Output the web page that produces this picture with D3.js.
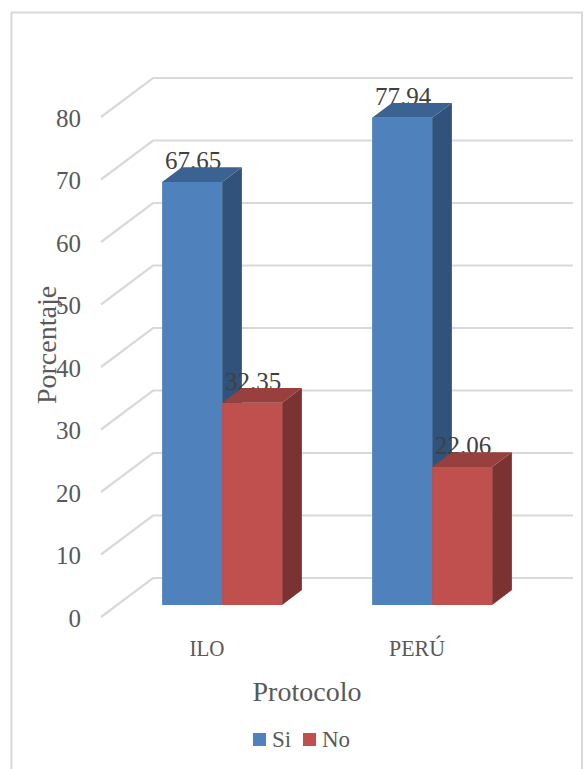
<!DOCTYPE html>
<html>
<head>
<meta charset="utf-8">
<script src="https://cdn.jsdelivr.net/npm/d3@7"></script>
<style>
html,body{margin:0;padding:0;background:#fff;overflow:hidden}
svg{display:block}
text{font-family:"Liberation Serif",serif}
</style>
</head>
<body>
<svg id="chart" width="585" height="769"></svg>
<script>
// Porcentaje por protocolo
const categories = ["ILO", "PERÚ"];
const seriesNames = ["Si", "No"];
const siValues = [67.65, 77.94];
const noValues = [32.35, 22.06];
const yTicks = [0, 10, 20, 30, 40, 50, 60, 70, 80];
const seriesColors = {
  Si: {front: "#4F81BD", side: "#31527A", top: "#3B6392"},
  No: {front: "#C0504D", side: "#7C3230", top: "#98403D"}
};

const svg = d3.select("#chart");

// Oblique projection of the floor: depth 0 is the front edge, depth 1 the back wall
const origin = {x: 101, y: 617};
const depthVec = {x: 52, y: -39};
const plotWidth = 420;
const y = d3.scaleLinear().domain([0, 80]).range([500, 0]);
const x0 = d3.scaleBand().domain(categories).range([0, plotWidth]);
const x1 = d3.scaleBand().domain(seriesNames).range([0, x0.bandwidth()]).paddingOuter(0.75).paddingInner(0);
const project = (px, value, depth) => [
  origin.x + px + depth * depthVec.x,
  origin.y - (500 - y(value)) + depth * depthVec.y
];

const barNear = 0.31, barFar = 0.69;
const poly = pts => pts.map(p => p.join(",")).join(" ");

// Outer chart frame
svg.append("path")
  .attr("d", "M11.5,769V12.5H582V769")
  .attr("fill", "none").attr("stroke", "#D9D9D9").attr("stroke-width", 2);

// Gridlines run along the floor side and then across the back wall
svg.append("g").selectAll("polyline").data(yTicks).join("polyline")
  .attr("points", d => poly([project(0, d, 0), project(0, d, 1), project(plotWidth, d, 1)]))
  .attr("fill", "none").attr("stroke", "#D9D9D9").attr("stroke-width", 2.2);

// Flatten the series into one record per bar
const bars = categories.flatMap((c, i) => [
  {cat: c, name: "Si", value: siValues[i]},
  {cat: c, name: "No", value: noValues[i]}
]);
const barLeft = d => x0(d.cat) + x1(d.name);
const barRight = d => barLeft(d) + x1.bandwidth();

const barLayer = svg.append("g");
barLayer.selectAll("polygon.side").data(bars).join("polygon")
  .attr("class", "side")
  .attr("fill", d => seriesColors[d.name].side)
  .attr("points", d => poly([
    project(barRight(d), 0, barNear), project(barRight(d), 0, barFar),
    project(barRight(d), d.value, barFar), project(barRight(d), d.value, barNear)
  ]));
barLayer.selectAll("polygon.front").data(bars).join("polygon")
  .attr("class", "front")
  .attr("fill", d => seriesColors[d.name].front)
  .attr("points", d => poly([
    project(barLeft(d), 0, barNear), project(barRight(d), 0, barNear),
    project(barRight(d), d.value, barNear), project(barLeft(d), d.value, barNear)
  ]));

// Value labels sit behind the bar caps
svg.append("g").selectAll("text").data(bars).join("text")
  .attr("x", d => project((barLeft(d) + barRight(d)) / 2, d.value, barNear)[0] + 1)
  .attr("y", d => project(0, d.value, barNear)[1] - 13)
  .attr("text-anchor", "middle")
  .attr("font-size", 25).attr("fill", "#404040")
  .text(d => d.value.toFixed(2));

svg.append("g").selectAll("polygon").data(bars).join("polygon")
  .attr("fill", d => seriesColors[d.name].top)
  .attr("points", d => poly([
    project(barLeft(d), d.value, barNear), project(barRight(d), d.value, barNear),
    project(barRight(d), d.value, barFar), project(barLeft(d), d.value, barFar)
  ]));

// Value axis on the front edge
const yAxis = svg.append("g")
  .attr("transform", `translate(81,${origin.y - 500})`)
  .call(d3.axisLeft(y).tickValues(yTicks).tickSize(0).tickPadding(0));
yAxis.select(".domain").remove();
yAxis.selectAll("text")
  .attr("font-family", "Liberation Serif")
  .attr("font-size", 25).attr("fill", "#595959")
  .attr("x", 0).attr("dy", "0.36em");

// Category labels, condensed to keep the tall narrow capitals
svg.append("g").selectAll("text").data(categories).join("text")
  .attr("x", d => origin.x + x0(d) + x0.bandwidth() / 2 + 1)
  .attr("y", 656)
  .attr("text-anchor", "middle")
  .attr("font-size", 24).attr("fill", "#595959")
  .attr("textLength", d => d.length === 3 ? 35 : 56)
  .attr("lengthAdjust", "spacingAndGlyphs")
  .text(d => d);

// Axis titles
svg.append("text")
  .attr("x", 307).attr("y", 701)
  .attr("text-anchor", "middle")
  .attr("font-size", 28).attr("fill", "#595959")
  .text("Protocolo");
svg.append("text")
  .attr("transform", "translate(56,345) rotate(-90)")
  .attr("text-anchor", "middle")
  .attr("font-size", 28).attr("fill", "#595959")
  .text("Porcentaje");

// Legend
const legendX = d3.scaleOrdinal().domain(seriesNames).range([253, 303]);
const legend = svg.append("g").selectAll("g").data(seriesNames).join("g")
  .attr("transform", d => `translate(${legendX(d)},733)`);
legend.append("rect")
  .attr("width", 13).attr("height", 13)
  .attr("fill", d => seriesColors[d].front);
legend.append("text")
  .attr("x", 19).attr("y", 14)
  .attr("font-size", 23).attr("fill", "#595959")
  .text(d => d);
</script>
</body>
</html>
